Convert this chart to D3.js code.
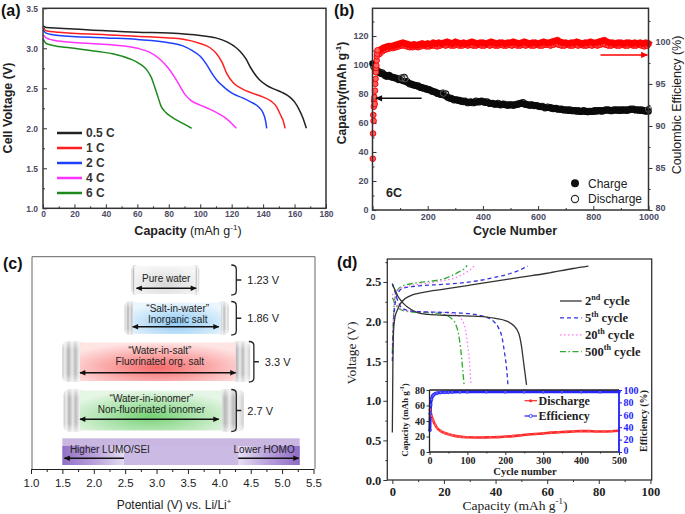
<!DOCTYPE html>
<html><head><meta charset="utf-8">
<script src="https://cdn.jsdelivr.net/npm/d3@7"></script>
<style>body{margin:0;background:#fff}svg{display:block}</style>
</head><body>
<script>
// ---------------- DATA ----------------
// (a) discharge curves [capacity mAh/g, voltage V]
const aLegend = ["0.5 C","1 C","2 C","4 C","6 C"];
const aColors = ["#222222","#ff1f1f","#1f3fff","#ff33ff","#1e8a1e"];
const curve05C = [[0,3.28],[2,3.26],[10,3.25],[30,3.23],[60,3.2],[80,3.19],[100,3.16],[110,3.13],[117,3.08],[122,3.02],[125,2.97],[129,2.87],[132,2.76],[135,2.67],[138,2.6],[142,2.54],[147,2.49],[152,2.45],[157,2.39],[160,2.33],[163,2.23],[165.5,2.12],[167.5,2.0]];
const curve1C = [[0,3.25],[2,3.22],[10,3.2],[40,3.17],[70,3.14],[90,3.11],[100,3.06],[106,3.01],[110,2.94],[114,2.82],[117,2.68],[121,2.57],[127,2.49],[133,2.44],[140,2.39],[145,2.34],[148.5,2.27],[151,2.17],[153,2.08],[154,2.0]];
const curve2C = [[0,3.23],[2,3.19],[10,3.16],[40,3.13],[60,3.11],[80,3.07],[89,3.03],[95,2.97],[100,2.9],[104,2.8],[108,2.67],[111,2.59],[116,2.5],[121,2.43],[127,2.38],[132,2.33],[137,2.27],[140,2.19],[141.5,2.1],[142.3,2.0]];
const curve4C = [[0,3.17],[2,3.13],[10,3.09],[30,3.06],[45,3.04],[60,3.0],[68,2.95],[74,2.87],[79,2.77],[84,2.63],[87,2.53],[90,2.43],[94,2.35],[100,2.29],[106,2.24],[111,2.19],[116,2.13],[120,2.06],[123,2.0]];
const curve6C = [[0,3.12],[2,3.06],[8,3.03],[20,3.0],[35,2.96],[45,2.93],[55,2.87],[62,2.8],[66,2.73],[69,2.63],[71,2.52],[73,2.4],[75,2.28],[78,2.2],[82,2.14],[88,2.07],[94.5,2.0]];
const aXTicks = [0,20,40,60,80,100,120,140,160,180];
const aYTicks = [1.0,1.5,2.0,2.5,3.0,3.5];

// (b) cycling at 6C
const bChargeStart = 0, bChargeStep = 10; // cycle numbers of charge points
const bCharge = [101,97.5,95,94,93.5,92,93,91.5,91,90.5,90,89,88.5,87.5,87,86,85.5,85,84.5,84,83,82.5,81.5,81,80,79.5,79,78,77,76.5,76,75.5,75,74.5,74.5,74,74.5,74,74.5,75,74.5,74,74,73.5,73,73,72.5,73,72.5,72,72.5,72,72.5,73,73.5,73,72.5,72,72.5,72,71.5,71,71,70.5,70.5,70,70,69.5,69.5,69,69,68.5,68.5,68.5,68,68,68,68,67.5,68,68,68,68.5,68,68.5,69,68.5,68.5,69,68.5,68.5,69,68.5,69,69.5,69,69,68.5,68.5,68,68];
const bDischargeStart = 5, bDischargeStep = 10;
const bDischarge = [99,96.5,95,94.5,93,92.5,92,91.5,91,90,91,91.5,88.5,87,86.5,86,85.5,84.5,84,83.5,83,82,81.5,80.5,80,80.5,80,77.5,77,76,76,75.5,75,75,74,74.5,74,75,74.5,75,74.5,74.5,73.5,73.5,73,73.5,72.5,73,72.5,72.5,72.5,72.5,73,73.5,74,73,72.5,72.5,72,72,71.5,71.5,70.5,71,70.5,70,70,69.5,69.5,69,69,69,68.5,68.5,68.5,68,68.5,68,68,68,68.5,68.5,68.5,68.5,69,69,68.5,69,69,69,69,69,69,69.5,69.5,69,69,69,68.5,68.5];
const bDischargeOutCycles = [106,118,257,1000];
const bDischargeOut = [91,90.5,80.5,69.5];
const bEffEarlyCycles = [1,2,3,4,5,6,7,8,9,10,11,12,13,14,15,16,17,18];
const bEffEarly = [86.1,89.1,91.3,90.6,92.3,93.0,93.4,92.6,94.2,95.0,95.6,96.4,96.9,97.2,97.8,98.3,98.6,99.0];
const bEffAStart = 20, bEffAStep = 10;
const bEffA = [98.8,99.1,99.3,99.4,99.5,99.5,99.6,99.7,99.8,99.9,99.8,99.7,99.6,99.7,99.6,99.7,99.8,99.7,99.8,99.7,99.9,99.8,99.9,99.8,99.9,100.0,99.9,99.8,100.0,99.9,99.8,99.9,99.8,99.9,100.0,99.9,99.8,99.9,99.9,99.8,99.9,100.0,99.9,99.8,99.9,99.9,99.8,99.9,99.9,100.0,99.9,99.8,99.9,100.0,99.9,99.8,99.9,99.9,99.8,99.9,100.0,99.9,99.9,100.0,100.1,100.2,100.0,99.9,99.9,99.8,99.9,99.9,100.0,99.9,99.8,99.9,99.9,100.0,99.9,99.9,100.0,100.1,100.2,100.0,99.9,99.9,99.8,99.9,99.9,99.8,99.9,99.9,99.8,99.9,99.8,99.9,99.8,99.9,99.8];
const bEffBStart = 25, bEffBStep = 10;
const bEffB = [98.6,98.9,99.1,99.2,99.3,99.3,99.4,99.5,99.6,99.6,99.5,99.4,99.4,99.5,99.4,99.5,99.6,99.5,99.5,99.6,99.6,99.5,99.6,99.7,99.6,99.7,99.6,99.6,99.7,99.6,99.6,99.7,99.6,99.7,99.6,99.6,99.7,99.6,99.6,99.7,99.6,99.7,99.6,99.6,99.7,99.6,99.6,99.7,99.6,99.7,99.6,99.6,99.7,99.6,99.7,99.6,99.6,99.7,99.6,99.6,99.7,99.7,99.6,99.7,99.8,99.7,99.6,99.6,99.7,99.6,99.6,99.7,99.6,99.7,99.6,99.6,99.7,99.6,99.7,99.6,99.7,99.8,99.7,99.6,99.6,99.7,99.6,99.6,99.7,99.6,99.6,99.7,99.6,99.6,99.7,99.6,99.5,99.6];
const bXTicks = [0,200,400,600,800,1000];
const bYLTicks = [0,20,40,60,80,100,120];
const bYRTicks = [80,85,90,95,100];
const bLegend = ["Charge","Discharge"];

// (c) electrochemical stability windows (potential V vs Li/Li+)
const cNames = [["Pure water"],["\u201CSalt-in-water\u201D","Inorganic salt"],["\u201CWater-in-salt\u201D","Fluorinated org. salt"],["\u201CWater-in-ionomer\u201D","Non-fluorinated ionomer"]];
const cWindows = ["1.23 V","1.86 V","3.3 V","2.7 V"];
const cCapsuleStart = [2.60,2.49,1.50,1.52];
const cCapsuleEnd = [3.68,4.15,4.49,4.39];
const cInnerStart = [2.65,2.62,1.78,1.78];
const cInnerEnd = [3.62,4.03,4.26,4.04];
const cArrowStart = [2.68,2.62,1.78,1.78];
const cArrowEnd = [3.63,3.99,4.26,3.99];
const cBracketAt = [4.27,4.27,4.55,4.27];
const cBaseRange = [1.5,5.28];
const cBaseFadeLeft = 2.48, cBaseFadeRight = 4.3;
const cBaseLabels = ["Higher LUMO/SEI","Lower HOMO"];
const cXTicks = [1.0,1.5,2.0,2.5,3.0,3.5,4.0,4.5,5.0,5.5];

// (d) charge/discharge profiles [capacity, voltage]
const dLegend = [["2","nd"],["5","th"],["20","th"],["500","th"]];
const d2Charge = [[0,0.6],[0.2,1.4],[0.5,1.9],[1,2.05],[2,2.15],[3,2.22],[5,2.29],[8,2.34],[12,2.37],[20,2.41],[30,2.46],[40,2.51],[50,2.56],[60,2.61],[70,2.67],[76,2.7]];
const d2Dis = [[0,2.47],[1,2.4],[2,2.33],[4,2.24],[6,2.18],[8,2.14],[10,2.11],[14,2.09],[20,2.08],[30,2.07],[36,2.06],[40,2.04],[44,2.01],[47,1.95],[49,1.85],[50,1.7],[51,1.45],[52,1.2]];
const d5Charge = [[0,1.5],[0.5,2.0],[1,2.2],[2,2.35],[4,2.42],[10,2.45],[20,2.47],[30,2.5],[40,2.56],[45,2.6],[50,2.66],[52.5,2.7]];
const d5Dis = [[0,2.48],[1,2.38],[2,2.27],[3,2.2],[5,2.15],[8,2.13],[15,2.12],[25,2.11],[32,2.09],[36,2.06],[39,2.01],[41,1.93],[42.5,1.8],[43.5,1.6],[44.3,1.4],[44.8,1.2]];
const d20Charge = [[0,1.7],[0.5,2.1],[1,2.3],[2,2.4],[5,2.44],[10,2.47],[15,2.49],[20,2.52],[25,2.56],[28,2.61],[30,2.65],[32,2.71]];
const d20Dis = [[0,2.35],[2,2.2],[4,2.15],[8,2.13],[15,2.12],[22,2.11],[25,2.08],[27,2.02],[28.3,1.9],[29.2,1.7],[30,1.45],[30.5,1.2]];
const d500Charge = [[0,1.6],[0.5,2.1],[1,2.3],[2,2.4],[4,2.45],[10,2.49],[15,2.51],[20,2.54],[23,2.58],[26,2.63],[28,2.67],[29,2.71]];
const d500Dis = [[0,2.3],[2,2.18],[4,2.14],[8,2.12],[15,2.11],[20,2.09],[22.5,2.05],[24.5,1.97],[25.6,1.85],[26.5,1.65],[27.2,1.42],[27.8,1.2]];
const dXTicks = [0,20,40,60,80,100];
const dYTicks = [0.0,0.5,1.0,1.5,2.0,2.5];
// inset
const insCycles = [1,3,5,8,10,15,20,30,40,50,60,70,80,90,100,120,140,160,180,200,220,240,260,280,300,320,340,360,380,400,420,440,460,480,500];
const insDischarge = [55,51,47,43,40,35,31,27,24.5,23,21.5,20.5,19.8,19.3,19,18.8,18.8,19,19.2,19.8,20.5,21.5,22.5,23.3,24,25,25.5,26,26.5,27,27,26.5,26.5,26.8,27.5];
const insEffCycles = [1,2,3,5,8,10,15,20,30,40,50,60,80,100,150,200,250,300,350,400,450,500];
const insEff = [35,62,76,85,90,92,94,95,96,96.3,96.5,96.8,97,97,97.2,97,97.2,97.1,97.2,97.3,97.2,97.2];
const insXTicks = [0,100,200,300,400,500];
const insYLTicks = [0,20,40,60,80];
const insYRTicks = [0,20,40,60,80,100];
const insLegend = ["Discharge","Efficiency"];

// ---------------- DRAWING ----------------
const SANS = "'Liberation Sans', Arial, sans-serif";
const SERIF = "'Liberation Serif', 'Times New Roman', serif";
const svg = d3.select("body").append("svg").attr("width",685).attr("height",514);
svg.append("rect").attr("width",685).attr("height",514).attr("fill","#fff");
const defs = svg.append("defs");

function rich(g, x, y, parts, o) {
  const t = g.append("text").attr("x",x).attr("y",y).attr("font-family",o.font)
    .attr("font-size",o.size).attr("fill",o.fill||"#000").attr("text-anchor",o.anchor||"start");
  if (o.rotate) t.attr("transform",`rotate(${o.rotate},${x},${y})`);
  if (o.weight) t.attr("font-weight",o.weight);
  let shift = 0;
  parts.forEach(p => {
    const s = t.append("tspan").text(p.t);
    if (p.w) s.attr("font-weight",p.w);
    if (p.sup) { s.attr("font-size",o.size*0.65).attr("dy",-o.size*0.42); shift = o.size*0.42; }
    else if (shift) { s.attr("dy",shift); shift = 0; }
  });
  return t;
}
function styleAxis(g, font, size, weight, fill, lineColor) {
  g.select(".domain").remove();
  g.selectAll("text").attr("font-family",font).attr("font-size",size).attr("font-weight",weight).attr("fill",fill);
  g.selectAll("line").attr("stroke",lineColor||"#333");
}
function marker(id, color, w, h) {
  defs.append("marker").attr("id",id).attr("viewBox","0 0 10 10").attr("refX",9).attr("refY",5)
    .attr("markerUnits","userSpaceOnUse").attr("markerWidth",w).attr("markerHeight",h)
    .attr("orient","auto-start-reverse")
    .append("path").attr("d","M0,0.5 L10,5 L0,9.5 z").attr("fill",color);
}
marker("arrK","#111",8,7); marker("arrR","#f00",8,7); marker("arrC","#111",7,6);

// panel labels
[["(a)",1,16],["(b)",334,16],["(c)",3,269],["(d)",337,268]].forEach(d=>{
  svg.append("text").attr("x",d[1]).attr("y",d[2]).text(d[0]).attr("font-family",SANS)
    .attr("font-weight","bold").attr("font-size",16).attr("fill","#111");
});

// ===== (a) =====
{
  const g = svg.append("g");
  const x = d3.scaleLinear().domain([0,180]).range([43,326]);
  const y = d3.scaleLinear().domain([1.0,3.5]).range([208.3,8.3]);
  const tickFill = "#4b4b63";
  const bx = g.append("g").attr("transform",`translate(0,${y(1.0)})`)
    .call(d3.axisBottom(x).tickValues(aXTicks).tickSizeInner(-4).tickSizeOuter(0).tickPadding(3).tickFormat(d3.format("d")));
  styleAxis(bx,SANS,8.5,"bold",tickFill);
  const bxm = g.append("g").attr("transform",`translate(0,${y(1.0)})`)
    .call(d3.axisBottom(x).tickValues(aXTicks.slice(0,-1).map(v=>v+10)).tickSizeInner(-2).tickSizeOuter(0).tickFormat(""));
  styleAxis(bxm,SANS,8,"bold",tickFill);
  const ly = g.append("g").attr("transform",`translate(${x(0)},0)`)
    .call(d3.axisLeft(y).tickValues(aYTicks).tickSizeInner(-4).tickSizeOuter(0).tickPadding(5).tickFormat(d3.format(".1f")));
  styleAxis(ly,SANS,8.5,"bold",tickFill);
  const lym = g.append("g").attr("transform",`translate(${x(0)},0)`)
    .call(d3.axisLeft(y).tickValues(aYTicks.slice(0,-1).map(v=>v+0.25)).tickSizeInner(-2).tickSizeOuter(0).tickFormat(""));
  styleAxis(lym,SANS,8,"bold",tickFill);

  const line = d3.line().x(d=>x(d[0])).y(d=>y(d[1])).curve(d3.curveMonotoneX);
  [curve05C,curve1C,curve2C,curve4C,curve6C].forEach((c,i)=>{
    g.append("path").attr("d",line(c)).attr("fill","none").attr("stroke",aColors[i]).attr("stroke-width",1.5);
  });
  g.append("rect").attr("x",x(0)).attr("y",y(3.5)).attr("width",x(180)-x(0)).attr("height",y(1.0)-y(3.5))
    .attr("fill","none").attr("stroke","#333").attr("stroke-width",1.5);
  aLegend.forEach((t,i)=>{
    const yy = 133 + i*15;
    g.append("line").attr("x1",57).attr("x2",82).attr("y1",yy).attr("y2",yy).attr("stroke",aColors[i]).attr("stroke-width",2.5);
    g.append("text").attr("x",86).attr("y",yy+4.3).text(t).attr("font-family",SANS).attr("font-weight","bold").attr("font-size",12).attr("fill","#333");
  });
  rich(g,12,108,[{t:"Cell Voltage (V)"}],{font:SANS,size:12.5,weight:"bold",anchor:"middle",rotate:-90,fill:"#222"});
  rich(g,188,235,[{t:"Capacity",w:"bold"},{t:" (mAh g"},{t:"-1",sup:true},{t:")"}],{font:SANS,size:12.5,anchor:"middle",fill:"#222"});
}

// ===== (b) =====
{
  const g = svg.append("g");
  const x = d3.scaleLinear().domain([0,1000]).range([372.5,648.5]);
  const yl = d3.scaleLinear().domain([0,139.1]).range([210,8.3]);
  const yr = d3.scaleLinear().domain([80,104]).range([210,8.3]);
  const tickFill = "#4b4b63";
  const bx = g.append("g").attr("transform",`translate(0,210)`)
    .call(d3.axisBottom(x).tickValues(bXTicks).tickSizeInner(-4).tickSizeOuter(0).tickPadding(4).tickFormat(d3.format("d")));
  styleAxis(bx,SANS,9,"bold",tickFill);
  const bxm = g.append("g").attr("transform",`translate(0,210)`)
    .call(d3.axisBottom(x).tickValues(bXTicks.slice(0,-1).map(v=>v+100)).tickSizeInner(-2).tickSizeOuter(0).tickFormat(""));
  styleAxis(bxm,SANS,8,"bold",tickFill);
  const ly = g.append("g").attr("transform",`translate(372.5,0)`)
    .call(d3.axisLeft(yl).tickValues(bYLTicks).tickSizeInner(-4).tickSizeOuter(0).tickPadding(4).tickFormat(d3.format("d")));
  styleAxis(ly,SANS,9,"bold",tickFill);
  const lym = g.append("g").attr("transform",`translate(372.5,0)`)
    .call(d3.axisLeft(yl).tickValues(bYLTicks.map(v=>v+10)).tickSizeInner(-2).tickSizeOuter(0).tickFormat(""));
  styleAxis(lym,SANS,8,"bold",tickFill);
  const ry = g.append("g").attr("transform",`translate(648.5,0)`)
    .call(d3.axisRight(yr).tickValues(bYRTicks).tickSizeInner(4).tickSizeOuter(0).tickPadding(3).tickFormat(d3.format("d")));
  styleAxis(ry,SANS,9,"bold",tickFill);
  ry.selectAll("text").filter(d=>d===80).attr("dy","0.05em");
  const rym = g.append("g").attr("transform",`translate(648.5,0)`)
    .call(d3.axisRight(yr).tickValues([82.5,87.5,92.5,97.5,102.5]).tickSizeInner(2).tickSizeOuter(0).tickFormat(""));
  styleAxis(rym,SANS,8,"bold",tickFill);

  const pts = g.append("g");
  bDischarge.forEach((v,i)=>{
    pts.append("circle").attr("cx",x(bDischargeStart+i*bDischargeStep)).attr("cy",yl(v)).attr("r",3.1).attr("fill","none").attr("stroke","#111").attr("stroke-width",1.1);
  });
  bCharge.forEach((v,i)=>{
    pts.append("circle").attr("cx",x(bChargeStart+i*bChargeStep)).attr("cy",yl(v)).attr("r",3.3).attr("fill","#0a0a0a");
  });
  bDischargeOut.forEach((v,i)=>{
    pts.append("circle").attr("cx",x(bDischargeOutCycles[i])).attr("cy",yl(v)).attr("r",3.1).attr("fill","none").attr("stroke","#555").attr("stroke-width",1);
  });
  bEffB.forEach((v,i)=>{
    pts.append("circle").attr("cx",x(bEffBStart+i*bEffBStep)).attr("cy",yr(v)).attr("r",3.1).attr("fill","#ff5050").attr("stroke","#f00").attr("stroke-width",1);
  });
  bEffA.forEach((v,i)=>{
    pts.append("circle").attr("cx",x(bEffAStart+i*bEffAStep)).attr("cy",yr(v)).attr("r",3.1).attr("fill","#f00").attr("stroke","#f00").attr("stroke-width",0.8);
  });
  bEffEarly.forEach((v,i)=>{
    pts.append("circle").attr("cx",x(bEffEarlyCycles[i])).attr("cy",yr(v)).attr("r",2.8).attr("fill","#ff6060").attr("stroke","#f00").attr("stroke-width",1);
  });
  g.append("rect").attr("x",372.5).attr("y",8.3).attr("width",276).attr("height",201.7)
    .attr("fill","none").attr("stroke","#333").attr("stroke-width",1.5);
  // arrows
  g.append("line").attr("x1",x(178)).attr("x2",x(12)).attr("y1",yl(77)).attr("y2",yl(77)).attr("stroke","#111").attr("stroke-width",1.5).attr("marker-end","url(#arrK)");
  g.append("line").attr("x1",x(826)).attr("x2",x(996)).attr("y1",yr(98.45)).attr("y2",yr(98.45)).attr("stroke","#f00").attr("stroke-width",1.5).attr("marker-end","url(#arrR)");
  g.append("text").attr("x",386).attr("y",197).text("6C").attr("font-family",SANS).attr("font-weight","bold").attr("font-size",12.5).attr("fill","#222");
  g.append("circle").attr("cx",575).attr("cy",183.3).attr("r",4).attr("fill","#111");
  g.append("circle").attr("cx",575).attr("cy",199).attr("r",3.6).attr("fill","#fff").attr("stroke","#333").attr("stroke-width",1.2);
  bLegend.forEach((t,i)=>{
    g.append("text").attr("x",588).attr("y",187.5+i*15.7).text(t).attr("font-family",SANS).attr("font-size",12).attr("fill","#222");
  });
  rich(g,346,93,[{t:"Capacity(mAh g"},{t:"-1",sup:true},{t:")"}],{font:SANS,size:12,weight:"bold",anchor:"middle",rotate:-90,fill:"#222"});
  rich(g,515,235,[{t:"Cycle Number"}],{font:SANS,size:12.5,weight:"bold",anchor:"middle",fill:"#222"});
  rich(g,681,105,[{t:"Coulombic Efficiency (%)"}],{font:SANS,size:12.5,anchor:"middle",rotate:-90,fill:"#222"});
}

// ===== (c) =====
{
  const g = svg.append("g");
  const x = d3.scaleLinear().domain([1.0,5.5]).range([31,313.5]);
  const top = 256.7, bot = 469;
  // gradients
  const cap = defs.append("linearGradient").attr("id","capG").attr("x1","0").attr("x2","1").attr("y1","0").attr("y2","0");
  [[0,"#c4c4c4"],[0.12,"#eeeeee"],[0.28,"#b5b5b5"],[0.45,"#e9e9e9"],[0.6,"#bcbcbc"],[0.78,"#efefef"],[1,"#cfcfcf"]]
    .forEach(s=>cap.append("stop").attr("offset",s[0]).attr("stop-color",s[1]));
  const capV = defs.append("linearGradient").attr("id","capV").attr("x1","0").attr("x2","0").attr("y1","0").attr("y2","1");
  [[0,"#ffffff",0.6],[0.2,"#ffffff",0],[0.8,"#ffffff",0],[1,"#ffffff",0.6]]
    .forEach(s=>capV.append("stop").attr("offset",s[0]).attr("stop-color",s[1]).attr("stop-opacity",s[2]));
  const innerCols = [["#d9d9d9","#f6f6f6"],["#8ec9f4","#eaf5fd"],["#f66a6a","#ffe4e4"],["#74d174","#e6f6e6"]];
  innerCols.forEach((c,i)=>{
    const rg = defs.append("radialGradient").attr("id","inG"+i).attr("cx","50%").attr("cy","65%").attr("r","65%");
    rg.append("stop").attr("offset",0).attr("stop-color",c[0]);
    rg.append("stop").attr("offset",1).attr("stop-color",c[1]);
  });
  const layout = [
    {top:265,h:30,lines:[278.3+3.5],arrow:288.3},
    {top:301.5,h:33.5,lines:[308.3+3.5,319+3.5],arrow:326.7},
    {top:341.5,h:40.5,lines:[350+3.5,361.7+3.5],arrow:372.7},
    {top:389.5,h:42,lines:[398.3+3.5,409.3+3.5],arrow:419.3}
  ];
  cNames.forEach((names,i)=>{
    const L = layout[i];
    const x0 = x(cCapsuleStart[i]), x1 = x(cCapsuleEnd[i]), i0 = x(cInnerStart[i]), i1 = x(cInnerEnd[i]);
    g.append("rect").attr("x",x0).attr("y",L.top).attr("width",i0-x0+4).attr("height",L.h).attr("rx",5).attr("fill","url(#capG)");
    g.append("rect").attr("x",i1-4).attr("y",L.top).attr("width",x1-i1+4).attr("height",L.h).attr("rx",5).attr("fill","url(#capG)");
    g.append("rect").attr("x",x0).attr("y",L.top).attr("width",x1-x0).attr("height",L.h).attr("rx",5).attr("fill","url(#capV)");
    g.append("rect").attr("x",i0).attr("y",L.top+1).attr("width",i1-i0).attr("height",L.h-2).attr("fill","url(#inG"+i+")");
    names.forEach((n,k)=>{
      g.append("text").attr("x",(x(cArrowStart[i])+x(cArrowEnd[i]))/2+(i===0?0:2)).attr("y",L.lines[k]).text(n)
        .attr("text-anchor","middle").attr("font-family",SANS).attr("font-size",10).attr("fill","#222");
    });
    g.append("line").attr("x1",x(cArrowStart[i])).attr("x2",x(cArrowEnd[i])).attr("y1",L.arrow).attr("y2",L.arrow)
      .attr("stroke","#111").attr("stroke-width",1.5).attr("marker-start","url(#arrC)").attr("marker-end","url(#arrC)");
    const bx = x(cBracketAt[i]), bt = L.top, bb = L.top+L.h, bm = (bt+bb)/2;
    g.append("path").attr("d",`M${bx-5},${bt} Q${bx},${bt} ${bx},${bt+4} L${bx},${bb-4} Q${bx},${bb} ${bx-5},${bb} M${bx},${bm} L${bx+5},${bm}`)
      .attr("fill","none").attr("stroke","#222").attr("stroke-width",1.3);
    g.append("text").attr("x",bx+11).attr("y",bm+4).text(cWindows[i]).attr("font-family",SANS).attr("font-size",11).attr("fill","#222");
  });
  // base bar
  const pg = defs.append("linearGradient").attr("id","purpG").attr("x1","0").attr("x2","1").attr("y1","0").attr("y2","0");
  const xb0 = x(cBaseRange[0]), xb1 = x(cBaseRange[1]), xl = x(cBaseFadeLeft), xr = x(cBaseFadeRight);
  const f = v=>(v-xb0)/(xb1-xb0);
  [[0,"#9270c6"],[f(xl)*0.6,"#c0aadf"],[f(xl),"#e4dcf0"],[f(xl)+0.002,"#cbbae3"],[f(xr),"#cbbae3"],[f(xr)+0.002,"#e6dff2"],[f(xr)+(1-f(xr))*0.4,"#c0aadf"],[1,"#8e6cc4"]]
    .forEach(s=>pg.append("stop").attr("offset",s[0]).attr("stop-color",s[1]));
  g.append("rect").attr("x",xb0).attr("y",438.3).attr("width",xb1-xb0).attr("height",26.7).attr("fill","#c9b7e2");
  g.append("rect").attr("x",xb0).attr("y",446).attr("width",xb1-xb0).attr("height",19).attr("fill","url(#purpG)");
  g.append("text").attr("x",xb0+7.5).attr("y",452.5).text(cBaseLabels[0]).attr("font-family",SANS).attr("font-size",10).attr("fill","#222");
  g.append("text").attr("x",xb1-5).attr("y",452.5).text(cBaseLabels[1]).attr("text-anchor","end").attr("font-family",SANS).attr("font-size",10).attr("fill","#222");
  g.append("line").attr("x1",xl).attr("x2",xb0+2).attr("y1",458.3).attr("y2",458.3).attr("stroke","#111").attr("stroke-width",1.4).attr("marker-end","url(#arrC)");
  g.append("line").attr("x1",xr).attr("x2",xb1-1).attr("y1",458.3).attr("y2",458.3).attr("stroke","#111").attr("stroke-width",1.4).attr("marker-end","url(#arrC)");
  // frame & axis
  g.append("path").attr("d",`M${x(1.0)+1},${bot} L${x(1.0)+1},${top} L${x(5.5)+1.5},${top} L${x(5.5)+1.5},${bot}`)
    .attr("fill","none").attr("stroke","#666").attr("stroke-width",1);
  const ax = g.append("g").attr("transform",`translate(0,${bot})`)
    .call(d3.axisBottom(x).tickValues(cXTicks).tickSizeInner(5).tickSizeOuter(0).tickPadding(5).tickFormat(d3.format(".1f")));
  ax.select(".domain").attr("stroke","#222").attr("stroke-width",1.2);
  ax.selectAll("text").attr("font-family",SANS).attr("font-size",11.5).attr("fill","#222");
  ax.selectAll("line").attr("stroke","#222");
  const axm = g.append("g").attr("transform",`translate(0,${bot})`)
    .call(d3.axisBottom(x).tickValues(cXTicks.slice(0,-1).map(v=>v+0.25)).tickSizeInner(3).tickSizeOuter(0).tickFormat(""));
  axm.select(".domain").remove(); axm.selectAll("line").attr("stroke","#222");
  rich(g,174,509,[{t:"Potential (V) vs. Li/Li"},{t:"+",sup:true}],{font:SANS,size:12,anchor:"middle",fill:"#222"});
}

// ===== (d) =====
{
  const g = svg.append("g");
  const x = d3.scaleLinear().domain([-1.95,100.5]).range([387.3,651.7]);
  const y = d3.scaleLinear().domain([0,2.79]).range([480,259]);
  const bx = g.append("g").attr("transform",`translate(0,480)`)
    .call(d3.axisBottom(x).tickValues(dXTicks).tickSizeInner(4).tickSizeOuter(0).tickPadding(3).tickFormat(d3.format("d")));
  styleAxis(bx,SERIF,12.5,"bold","#222");
  const bxm = g.append("g").attr("transform",`translate(0,480)`)
    .call(d3.axisBottom(x).tickValues(dXTicks.slice(0,-1).map(v=>v+10)).tickSizeInner(2).tickSizeOuter(0).tickFormat(""));
  styleAxis(bxm,SERIF,8,"bold","#222");
  const ly = g.append("g").attr("transform",`translate(387.3,0)`)
    .call(d3.axisLeft(y).tickValues(dYTicks).tickSizeInner(4).tickSizeOuter(0).tickPadding(2).tickFormat(d3.format(".1f")));
  styleAxis(ly,SERIF,12.5,"bold","#222");
  const lym = g.append("g").attr("transform",`translate(387.3,0)`)
    .call(d3.axisLeft(y).tickValues(dYTicks.map(v=>v+0.25)).tickSizeInner(2).tickSizeOuter(0).tickFormat(""));
  styleAxis(lym,SERIF,8,"bold","#222");

  const line = d3.line().x(d=>x(d[0])).y(d=>y(d[1])).curve(d3.curveMonotoneX);
  const styles = [
    {c:"#333",dash:null},
    {c:"#3535dd",dash:"4,3"},
    {c:"#ff77ff",dash:"1.5,2.5"},
    {c:"#2faa2f",dash:"6,2.5,1.5,2.5"}
  ];
  [[d500Charge,d500Dis,3],[d20Charge,d20Dis,2],[d5Charge,d5Dis,1],[d2Charge,d2Dis,0]].forEach(s=>{
    const st = styles[s[2]];
    [s[0],s[1]].forEach(c=>{
      const p = g.append("path").attr("d",line(c)).attr("fill","none").attr("stroke",st.c).attr("stroke-width",1.3);
      if (st.dash) p.attr("stroke-dasharray",st.dash);
    });
  });
  g.append("rect").attr("x",387.3).attr("y",259).attr("width",264.4).attr("height",221)
    .attr("fill","none").attr("stroke","#333").attr("stroke-width",1.3);
  dLegend.forEach((t,i)=>{
    const yy = 301 + i*16.9, st = styles[i];
    const l = g.append("line").attr("x1",560).attr("x2",581.7).attr("y1",yy).attr("y2",yy).attr("stroke",st.c).attr("stroke-width",1.3);
    if (st.dash) l.attr("stroke-dasharray",st.dash);
    rich(g,585,yy+4,[{t:t[0]},{t:t[1],sup:true},{t:" cycle"}],{font:SERIF,size:12.5,weight:"bold",fill:"#222"});
  });
  rich(g,356,353,[{t:"Voltage (V)"}],{font:SERIF,size:13.5,anchor:"middle",rotate:-90,fill:"#222"});
  rich(g,515,510,[{t:"Capacity (mAh g"},{t:"-1",sup:true},{t:")"}],{font:SERIF,size:13.5,anchor:"middle",fill:"#222"});

  // inset
  const ix = d3.scaleLinear().domain([0,500]).range([429.5,619]);
  const iyl = d3.scaleLinear().domain([0,80]).range([452,390]);
  const iyr = d3.scaleLinear().domain([0,100]).range([452,390]);
  g.append("rect").attr("x",429.5).attr("y",390).attr("width",189.5).attr("height",62).attr("fill","#fff");
  const ibx = g.append("g").attr("transform",`translate(0,452)`)
    .call(d3.axisBottom(ix).tickValues(insXTicks).tickSizeInner(3).tickSizeOuter(0).tickPadding(2).tickFormat(d3.format("d")));
  styleAxis(ibx,SERIF,10,"bold","#222");
  const ibxm = g.append("g").attr("transform",`translate(0,452)`)
    .call(d3.axisBottom(ix).tickValues(insXTicks.slice(0,-1).map(v=>v+50)).tickSizeInner(1.5).tickSizeOuter(0).tickFormat(""));
  styleAxis(ibxm,SERIF,8,"bold","#222");
  const ily = g.append("g").attr("transform",`translate(429.5,0)`)
    .call(d3.axisLeft(iyl).tickValues(insYLTicks).tickSizeInner(3).tickSizeOuter(0).tickPadding(1.5).tickFormat(d3.format("d")));
  styleAxis(ily,SERIF,10,"bold","#222");
  const iry = g.append("g").attr("transform",`translate(619,0)`)
    .call(d3.axisRight(iyr).tickValues(insYRTicks).tickSizeInner(3).tickSizeOuter(0).tickPadding(1.5).tickFormat(d3.format("d")));
  styleAxis(iry,SERIF,10,"bold","#1d1dff","#1d1dff");
  iry.selectAll("text").filter(d=>d===0).attr("dy","0.1em");
  const il1 = d3.line().x((d,i)=>ix(insCycles[i])).y(d=>iyl(d)).curve(d3.curveMonotoneX);
  const il2 = d3.line().x((d,i)=>ix(insEffCycles[i])).y(d=>iyr(d)).curve(d3.curveMonotoneX);
  g.append("path").attr("d",il1(insDischarge)).attr("fill","none").attr("stroke","#ff2a2a").attr("stroke-width",2.6);
  g.append("path").attr("d",il2(insEff)).attr("fill","none").attr("stroke","#2424ff").attr("stroke-width",3);
  insDischarge.forEach((v,i)=>g.append("circle").attr("cx",ix(insCycles[i])).attr("cy",iyl(v)).attr("r",1.3).attr("fill","#ff5555"));
  insEff.forEach((v,i)=>g.append("circle").attr("cx",ix(insEffCycles[i])).attr("cy",iyr(v)).attr("r",1.5).attr("fill","#6060ff").attr("stroke","#2020ff").attr("stroke-width",0.6));
  g.append("path").attr("d","M429.5,390 L429.5,452 L619,452").attr("fill","none").attr("stroke","#222").attr("stroke-width",1.3);
  g.append("path").attr("d","M429.5,390 L619,390").attr("fill","none").attr("stroke","#222").attr("stroke-width",1.3);
  g.append("path").attr("d","M619,390 L619,452").attr("fill","none").attr("stroke","#1d1dff").attr("stroke-width",1.8);
  // inset legend
  g.append("line").attr("x1",524.5).attr("x2",537).attr("y1",400.7).attr("y2",400.7).attr("stroke","#ff2a2a").attr("stroke-width",1.2);
  g.append("circle").attr("cx",530.7).attr("cy",400.7).attr("r",1.5).attr("fill","#ff2a2a");
  g.append("line").attr("x1",524.5).attr("x2",537).attr("y1",416).attr("y2",416).attr("stroke","#2424ff").attr("stroke-width",1.2);
  g.append("circle").attr("cx",530.7).attr("cy",416).attr("r",1.6).attr("fill","#fff").attr("stroke","#2424ff").attr("stroke-width",0.8);
  insLegend.forEach((t,i)=>{
    g.append("text").attr("x",538.5).attr("y",404.7+i*15.3).text(t).attr("font-family",SERIF).attr("font-weight","bold").attr("font-size",12).attr("fill","#222");
  });
  rich(g,525,475,[{t:"Cycle number"}],{font:SERIF,size:10.5,weight:"bold",anchor:"middle",fill:"#222"});
  rich(g,408,420,[{t:"Capacity (mAh g"},{t:"-1",sup:true},{t:")"}],{font:SERIF,size:9,weight:"bold",anchor:"middle",rotate:-90,fill:"#222"});
  rich(g,647,421,[{t:"Efficiency (%)"}],{font:SERIF,size:10,weight:"bold",anchor:"middle",rotate:-90,fill:"#222"});
}
</script>
</body></html>
